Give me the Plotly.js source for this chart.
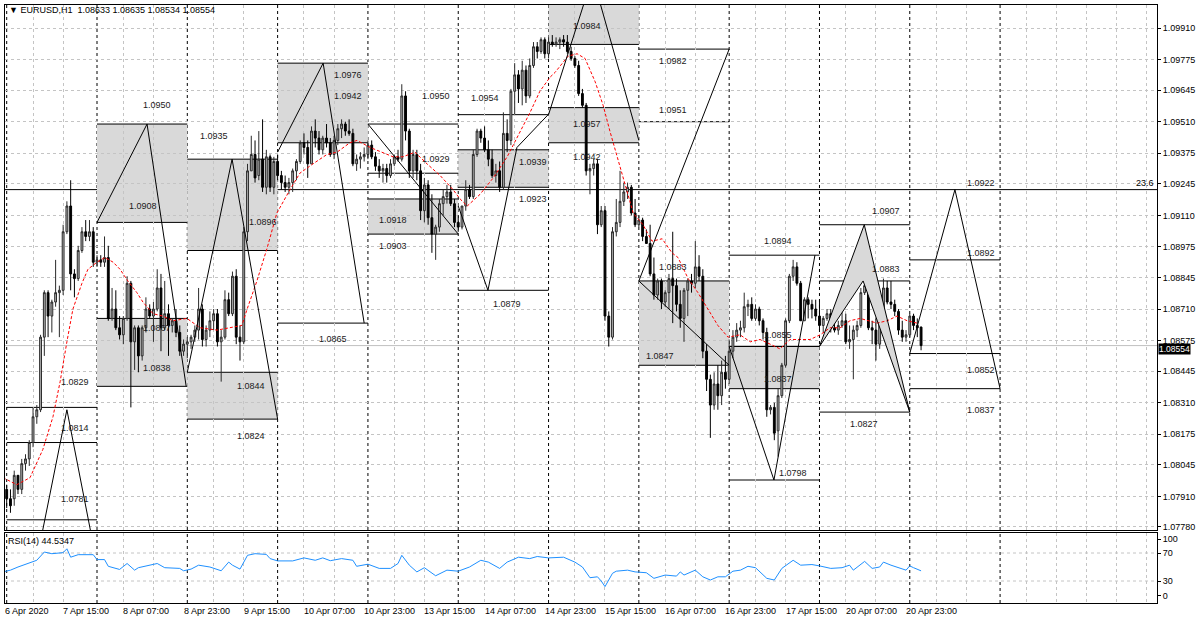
<!DOCTYPE html>
<html><head><meta charset="utf-8">
<script src="https://cdn.plot.ly/plotly-3.0.1.min.js"></script>
<style>html,body{margin:0;padding:0;background:#fff;}#chart{width:1200px;height:623px;}</style>
</head><body><div id="chart"></div>
<script>
// ---------- data ----------
const symbolTitle = "EURUSD,H1";
const lastOHLC = [1.08633, 1.08635, 1.08534, 1.08554];
const rsiLast = 44.5347;
// bar index 0 = 7 Apr 2020 00:00 (H1 bars)
const openP = [1.0794,1.0790,1.0790,1.0800,1.0794,1.0805,1.0807,1.0814,1.0825,1.0828,
1.0859,1.0878,1.0868,1.0874,1.0878,1.0879,1.0904,1.0915,1.0886,1.0884,
1.0896,1.0904,1.0902,1.0904,1.0891,1.0892,1.0891,1.0893,1.0867,1.0871,
1.0863,1.0860,1.0867,1.0882,1.0857,1.0863,1.0851,1.0863,1.0871,1.0868,
1.0871,1.0880,1.0863,1.0869,1.0864,1.0866,1.0861,1.0853,1.0856,1.0857,
1.0859,1.0862,1.0871,1.0858,1.0862,1.0866,1.0869,1.0857,1.0859,1.0875,
1.0869,1.0885,1.0859,1.0857,1.0904,1.0930,1.0937,1.0928,1.0935,1.0923,
1.0936,1.0923,1.0934,1.0928,1.0925,1.0923,1.0925,1.0930,1.0934,1.0942,
1.0940,1.0933,1.0947,1.0944,1.0939,1.0944,1.0942,1.0937,1.0943,1.0948,
1.0950,1.0947,1.0946,1.0933,1.0935,1.0936,1.0937,1.0941,1.0936,1.0932,
1.0930,1.0931,1.0928,1.0933,1.0936,1.0935,1.0962,1.0947,1.0930,1.0937,
1.0930,1.0913,1.0924,1.0910,1.0903,1.0906,1.0916,1.0919,1.0921,1.0916,
1.0908,1.0906,1.0915,1.0922,1.0919,1.0937,1.0947,1.0944,1.0939,1.0935,
1.0928,1.0930,1.0923,1.0946,1.0943,1.0964,1.0971,1.0965,1.0973,1.0962,
1.0975,1.0983,1.0981,1.0986,1.0980,1.0985,1.0984,1.0985,1.0986,1.0985,
1.0981,1.0978,1.0975,1.0963,1.0958,1.0930,1.0931,1.0933,1.0907,1.0913,
1.0868,1.0859,1.0904,1.0908,1.0917,1.0921,1.0923,1.0912,1.0907,1.0909,
1.0902,1.0899,1.0886,1.0877,1.0883,1.0874,1.0878,1.0884,1.0881,1.0873,
1.0867,1.0879,1.0883,1.0882,1.0889,1.0885,1.0853,1.0841,1.0830,1.0839,
1.0834,1.0844,1.0841,1.0853,1.0859,1.0862,1.0863,1.0872,1.0873,1.0867,
1.0871,1.0866,1.0861,1.0828,1.0829,1.0819,1.0834,1.0847,1.0866,1.0885,
1.0889,1.0882,1.0866,1.0875,1.0873,1.0871,1.0868,1.0864,1.0867,1.0869,
1.0863,1.0862,1.0864,1.0866,1.0857,1.0858,1.0862,1.0864,1.0878,1.0881,
1.0863,1.0862,1.0856,1.0866,1.0880,1.0874,1.0873,1.0870,1.0862,1.0859,
1.0860,1.0868,1.0864,1.08633];
const highP = [1.0796,1.0794,1.0802,1.0800,1.0807,1.0809,1.0815,1.0829,1.0830,1.0860,
1.0879,1.0879,1.0875,1.0892,1.0881,1.0907,1.0917,1.0926,1.0888,1.0898,
1.0906,1.0909,1.0909,1.0906,1.0894,1.0894,1.0902,1.0898,1.0880,1.0879,
1.0868,1.0868,1.0885,1.0883,1.0864,1.0864,1.0864,1.0876,1.0873,1.0874,
1.0888,1.0886,1.0883,1.0873,1.0867,1.0871,1.0864,1.0858,1.0859,1.0860,
1.0864,1.0880,1.0873,1.0864,1.0870,1.0871,1.0871,1.0862,1.0879,1.0878,
1.0887,1.0888,1.0864,1.0906,1.0933,1.0945,1.0943,1.0947,1.0952,1.0939,
1.0937,1.0936,1.0937,1.0930,1.0928,1.0927,1.0931,1.0935,1.0943,1.0946,
1.0943,1.0949,1.0952,1.0947,1.0945,1.0950,1.0944,1.0945,1.0950,1.0952,
1.0951,1.0952,1.0948,1.0937,1.0938,1.0940,1.0943,1.0943,1.0938,1.0935,
1.0933,1.0933,1.0935,1.0937,1.0939,1.0967,1.0964,1.0948,1.0939,1.0939,
1.0933,1.0927,1.0926,1.0920,1.0907,1.0918,1.0922,1.0924,1.0924,1.0918,
1.0911,1.0915,1.0926,1.0924,1.0939,1.0948,1.0948,1.0949,1.0943,1.0939,
1.0933,1.0934,1.0955,1.0952,1.0965,1.0976,1.0973,1.0977,1.0975,1.0978,
1.0985,1.0985,1.0987,1.0987,1.0987,1.0988,1.0987,1.0987,1.0988,1.0988,
1.0983,1.0979,1.0977,1.0965,1.0959,1.0933,1.0935,1.0935,1.0915,1.0915,
1.0870,1.0906,1.0918,1.0930,1.0925,1.0925,1.0924,1.0918,1.0911,1.0910,
1.0905,1.0907,1.0893,1.0884,1.0884,1.0879,1.0886,1.0904,1.0884,1.0879,
1.0880,1.0884,1.0886,1.0900,1.0894,1.0888,1.0856,1.0843,1.0844,1.0847,
1.0849,1.0851,1.0858,1.0862,1.0865,1.0866,1.0878,1.0875,1.0876,1.0873,
1.0872,1.0867,1.0863,1.0830,1.0831,1.0837,1.0848,1.0867,1.0886,1.0892,
1.0891,1.0883,1.0876,1.0876,1.0875,1.0875,1.0875,1.0868,1.0871,1.0871,
1.0866,1.0866,1.0871,1.0869,1.0864,1.0864,1.0866,1.0880,1.0896,1.0883,
1.0866,1.0867,1.0868,1.0884,1.0883,1.0883,1.0875,1.0871,1.0866,1.0862,
1.0869,1.0869,1.0867,1.08635];
const lowP = [1.0786,1.0784,1.0787,1.0792,1.0792,1.0802,1.0804,1.0812,1.0822,1.0827,
1.0851,1.0859,1.0861,1.0872,1.0859,1.0877,1.0903,1.0879,1.0876,1.0883,
1.0895,1.0900,1.0900,1.0889,1.0889,1.0889,1.0889,1.0866,1.0866,1.0862,
1.0858,1.0856,1.0866,1.0829,1.0845,1.0844,1.0849,1.0861,1.0867,1.0857,
1.0870,1.0853,1.0862,1.0851,1.0861,1.0859,1.0851,1.0851,1.0850,1.0854,
1.0857,1.0858,1.0855,1.0855,1.0859,1.0862,1.0855,1.0840,1.0858,1.0868,
1.0868,1.0856,1.0849,1.0856,1.0900,1.0930,1.0925,1.0926,1.0921,1.0920,
1.0921,1.0920,1.0926,1.0922,1.0921,1.0920,1.0921,1.0926,1.0933,1.0937,
1.0927,1.0933,1.0940,1.0937,1.0937,1.0940,1.0936,1.0935,1.0941,1.0944,
1.0945,1.0945,1.0932,1.0930,1.0931,1.0934,1.0935,1.0935,1.0930,1.0927,
1.0925,1.0925,1.0927,1.0932,1.0934,1.0934,1.0943,1.0927,1.0927,1.0926,
1.0909,1.0908,1.0907,1.0895,1.0892,1.0904,1.0911,1.0916,1.0915,1.0906,
1.0904,1.0905,1.0913,1.0918,1.0918,1.0936,1.0942,1.0938,1.0932,1.0927,
1.0925,1.0921,1.0922,1.0938,1.0941,1.0954,1.0959,1.0958,1.0959,1.0961,
1.0974,1.0978,1.0980,1.0978,1.0978,1.0983,1.0983,1.0982,1.0983,1.0980,
1.0977,1.0974,1.0962,1.0957,1.0928,1.0920,1.0928,1.0903,1.0906,1.0866,
1.0855,1.0858,1.0902,1.0906,1.0915,1.0918,1.0911,1.0906,1.0906,1.0900,
1.0899,1.0885,1.0875,1.0875,1.0871,1.0872,1.0871,1.0865,1.0870,1.0863,
1.0857,1.0868,1.0878,1.0880,1.0883,1.0850,1.0836,1.0816,1.0828,1.0828,
1.0830,1.0837,1.0839,1.0850,1.0857,1.0859,1.0861,1.0868,1.0866,1.0866,
1.0864,1.0858,1.0825,1.0826,1.0815,1.0808,1.0833,1.0846,1.0865,1.0883,
1.0881,1.0866,1.0866,1.0867,1.0867,1.0866,1.0862,1.0861,1.0866,1.0861,
1.0861,1.0860,1.0863,1.0856,1.0854,1.0841,1.0859,1.0863,1.0877,1.0862,
1.0856,1.0849,1.0854,1.0866,1.0873,1.0871,1.0868,1.0860,1.0857,1.0857,
1.0859,1.0862,1.0859,1.08534];
const closeP = [1.0790,1.0787,1.0800,1.0794,1.0805,1.0807,1.0814,1.0825,1.0828,1.0859,
1.0878,1.0868,1.0874,1.0878,1.0879,1.0904,1.0915,1.0886,1.0884,1.0896,
1.0904,1.0902,1.0904,1.0891,1.0892,1.0891,1.0893,1.0867,1.0871,1.0863,
1.0860,1.0867,1.0882,1.0857,1.0863,1.0851,1.0863,1.0871,1.0868,1.0871,
1.0880,1.0863,1.0869,1.0864,1.0866,1.0861,1.0853,1.0856,1.0857,1.0859,
1.0862,1.0871,1.0858,1.0862,1.0866,1.0869,1.0857,1.0859,1.0875,1.0869,
1.0885,1.0859,1.0857,1.0904,1.0930,1.0937,1.0927,1.0935,1.0923,1.0936,
1.0923,1.0934,1.0928,1.0925,1.0923,1.0925,1.0930,1.0934,1.0942,1.0940,
1.0933,1.0947,1.0944,1.0939,1.0944,1.0942,1.0937,1.0943,1.0948,1.0950,
1.0947,1.0946,1.0933,1.0935,1.0936,1.0937,1.0941,1.0936,1.0932,1.0930,
1.0931,1.0928,1.0933,1.0936,1.0935,1.0962,1.0947,1.0930,1.0937,1.0930,
1.0913,1.0924,1.0910,1.0903,1.0906,1.0916,1.0919,1.0921,1.0916,1.0908,
1.0906,1.0915,1.0922,1.0919,1.0937,1.0947,1.0944,1.0939,1.0935,1.0928,
1.0930,1.0923,1.0946,1.0943,1.0964,1.0971,1.0965,1.0973,1.0962,1.0975,
1.0983,1.0981,1.0986,1.0980,1.0985,1.0984,1.0985,1.0986,1.0985,1.0981,
1.0978,1.0975,1.0963,1.0958,1.0930,1.0931,1.0933,1.0907,1.0913,1.0868,
1.0859,1.0904,1.0908,1.0917,1.0921,1.0923,1.0912,1.0907,1.0909,1.0902,
1.0899,1.0886,1.0877,1.0883,1.0874,1.0878,1.0884,1.0881,1.0873,1.0867,
1.0879,1.0883,1.0882,1.0889,1.0885,1.0853,1.0841,1.0830,1.0839,1.0834,
1.0844,1.0841,1.0853,1.0859,1.0862,1.0863,1.0872,1.0873,1.0867,1.0871,
1.0866,1.0861,1.0828,1.0829,1.0818,1.0834,1.0847,1.0866,1.0885,1.0889,
1.0882,1.0866,1.0875,1.0873,1.0871,1.0868,1.0864,1.0867,1.0869,1.0863,
1.0862,1.0864,1.0866,1.0857,1.0858,1.0862,1.0864,1.0878,1.0881,1.0863,
1.0862,1.0856,1.0866,1.0880,1.0874,1.0873,1.0870,1.0862,1.0859,1.0860,
1.0868,1.0864,1.0863,1.08554];

// moving average (red dashed), read points
const maX = [-1,2.7,6.2,9.6,12.3,14.2,16,17.6,20,21.6,24,26.1,28.3,30.1,32.2,34.6,36.2,38.9,41.5,44.2,
47.9,51.4,55.9,59.4,62.5,63.9,66.5,69.2,71.8,75.3,77.9,81.4,85.1,87.8,91.2,93.1,95.2,96.6,102.7,105.3,
108.5,111.7,115.2,118.6,120.5,122.4,125.8,129.3,133,135.6,139.1,141.7,144.4,145.7,149.2,151.6,153.7,156.4,158.5,160.3,
162.2,164.3,166.5,169.1,171.5,174.2,176.8,178.4,181.1,183.7,186.4,189,191.7,194.9,197.6,200.2,202.9,205.5,208.2,210.9,
213.5,216.2,218.8,221.5,224.1,226.8,229.4,231.3,234,236.6,239.3,241.9];
const maV = [1.0799,1.0796,1.0799,1.0811,1.0825,1.0840,1.0857,1.0871,1.0882,1.0888,1.0891,1.0893,1.0891,1.0888,1.0883,1.0878,1.0874,1.0869,1.0868,1.0866,
1.0867,1.0863,1.0862,1.0863,1.0864,1.0871,1.0883,1.0897,1.0912,1.0922,1.0929,1.0933,1.0937,1.0938,1.0942,1.0943,1.0941,1.0940,1.0936,1.0936,
1.0938,1.0933,1.0928,1.0922,1.0918,1.0915,1.0920,1.0927,1.0936,1.0944,1.0955,1.0964,1.0970,1.0972,1.0979,1.0980,1.0978,1.0968,1.0958,1.0947,
1.0936,1.0924,1.0912,1.0907,1.0900,1.0901,1.0895,1.0893,1.0884,1.0878,1.0871,1.0864,1.0859,1.0860,1.0857,1.0858,1.0856,1.0854,1.0858,1.0858,
1.0858,1.0860,1.0863,1.0863,1.0866,1.0867,1.0866,1.0865,1.0866,1.0868,1.0866,1.0865];

// RSI(14), read points
const rsiX = [-1,1,3,8,10,12,15,16,17,19,23,24,26,27,30,32,34,35,40,42,46,47,49,51,54,57,59,60,62,64,66,69,70,72,76,79,82,84,86,89,
92,93,96,99,102,104,105,107,109,111,114,117,120,123,126,128,131,133,136,139,141,144,148,151,153,155,157,158,159,161,162,165,167,170,172,175,178,179,180,183,
185,187,189,191,193,195,197,199,202,204,206,209,211,214,216,219,222,224,225,228,230,232,233,235,239,240,241,243];
const rsiV = [43,45.5,50,59.6,71.4,69,70.5,76,64,67.6,67.6,60.6,60.6,51,46.5,55,45.5,49,55,49,48,44.6,47,52.6,50,44.6,57,52.6,47,66.7,69,68,62,58.7,58.7,63,59.6,63,59,62,
59.6,51,54,48,48,55,66.7,52.6,43,49,37.5,45.5,44,50,59.6,57,48,57,64,62,65,63,64,57,50,34.7,36,30,22,41,44,45.5,43,41.8,33.8,38.5,37,43,38.5,45.5,
36,31.4,36,36,44,45.5,51,49,33.8,31.4,48,59.6,52.6,53.5,51.6,48,49,52.6,45.5,58,48,50,57,52.6,45.5,51.6,49,44.53];

// daily indicator levels (column = first bar of the day)
const dayStart = [0,24,48,72,96,120,144,168,192,216,240,264];
const levCol = [0,0,0, 24,24,24,24, 48,48,48,48, 72,72,72, 96,96,96,96, 120,120,120,120, 144,144,144, 168,168,168,168, 192,192,192,192, 216,216,216, 240,240,240];
const levVal = [1.0829,1.0814,1.0781, 1.0950,1.0908,1.0867,1.0838, 1.0935,1.0896,1.0844,1.0824, 1.0976,1.0942,1.0865, 1.0950,1.0929,1.0918,1.0903, 1.0954,1.0939,1.0923,1.0879, 1.0984,1.0957,1.0942, 1.0982,1.0951,1.0883,1.0847, 1.0894,1.0855,1.0837,1.0798, 1.0907,1.0883,1.0827, 1.0892,1.0852,1.0837];
const boxCol = [24,24,48,48,72,96,120,144,144,168,192];
const boxTop = [1.0950,1.0867,1.0935,1.0844,1.0976,1.0918,1.0939,1.1010,1.0957,1.0883,1.0855];
const boxBot = [1.0908,1.0838,1.0896,1.0824,1.0942,1.0903,1.0923,1.0984,1.0942,1.0847,1.0837];
const fibLevel = 1.0922, fibText = "23.6";
// zigzag projections
const zzX = [[9.0,16.0,22.8],[24,37.3,47.7],[48,59.9,72],[72,84.1,95],[96,120],[120,127.9,135.6,143.9],[144,155.7,168],[192,168,192],[192,203.9,214.8],[216,227.9,240],[216,227.6,240],[240,252,264]];
const zzY = [[1.0772,1.0828,1.0772],[1.0908,1.0950,1.0838],[1.0844,1.0935,1.0824],[1.0938,1.0976,1.0865],[1.0950,1.0903],[1.0915,1.0879,1.0940,1.0954],[1.0954,1.1013,1.0943],[1.0847,1.0883,1.0982],[1.0855,1.0798,1.0894],[1.0855,1.0907,1.0827],[1.0855,1.0883,1.0827],[1.0852,1.0922,1.0837]];
const fillOuter = 9, fillInner = 10;
// level labels
const labX = [18.2,18.2,18.2, 40,36.2,40,40, 55,68,65,65, 90.8,90.8,86.8, 114,114,102.7,102.7, 127,140,140,133, 154.2,154.2,154.2, 177,177,177,173.7, 204.9,204.9,205,209, 233.8,233.8,227.9, 258.9,258.9,258.9,258.9];
const labPos = [1.0840,1.0820,1.0790, 1.0958,1.0915,1.0863,1.0846, 1.0945,1.0908,1.0838,1.0817, 1.0971,1.0962,1.0858, 1.0962,1.0935,1.0909,1.0898, 1.0961,1.0934,1.0918,1.0873, 1.0992,1.0950,1.0936, 1.0977,1.0956,1.0889,1.0851, 1.0900,1.0860,1.0841,1.0801, 1.0913,1.0888,1.0822, 1.0925,1.0895,1.0845,1.0828];
const labVal = [1.0829,1.0814,1.0781, 1.0950,1.0908,1.0867,1.0838, 1.0935,1.0896,1.0844,1.0824, 1.0976,1.0942,1.0865, 1.0950,1.0929,1.0918,1.0903, 1.0954,1.0939,1.0923,1.0879, 1.0984,1.0957,1.0942, 1.0982,1.0951,1.0883,1.0847, 1.0894,1.0855,1.0837,1.0798, 1.0907,1.0883,1.0827, 1.0922,1.0892,1.0852,1.0837];

// axes
const priceTicks = [1.09910,1.09775,1.09645,1.09510,1.09375,1.09245,1.09110,1.08975,1.08845,1.08710,1.08575,1.08445,1.08310,1.08175,1.08045,1.07910,1.07780];
const rsiTickVals = [90,70,30,8.6];
const rsiTickText = ['100','70','30','0'];
const rsiLevels = [70,30];
const xLabIdx = [-0.45,15,31,47,63,79,95,111,127,143,159,175,191,207,223,239];
const xLabText = ['6 Apr 2020','7 Apr 15:00','8 Apr 07:00','8 Apr 23:00','9 Apr 15:00','10 Apr 07:00','10 Apr 23:00','13 Apr 15:00','14 Apr 07:00','14 Apr 23:00','15 Apr 15:00','16 Apr 07:00','16 Apr 23:00','17 Apr 15:00','20 Apr 07:00','20 Apr 23:00'];
const gridTicks = [7,15,31,39,55,63,79,87,103,111,127,135,151,159,175,183,199,207,223,231,247,255,271,279,287,295,303];

// ---------- layout constants ----------
const W = 1200, H = 623;
const X0 = 5/W, X1 = 1157/W;
const MAIN = [(H-530)/H, (H-5)/H];
const SUB = [(H-603)/H, (H-533)/H];
const XR = [-0.45, 305.7];
const YR = [1.077665, 1.100083];
const Y2R = [-1.43, 98.57];
const FONT = 'Liberation Sans, Arial, sans-serif';
const GRID = '#c4c4c4';
const BOXFILL = '#d9d9d9';

const idx = openP.map((_, k) => k);
const traces = [];

// filled chevron (col J)
const fx = zzX[fillOuter].concat(zzX[fillInner].slice().reverse());
const fy = zzY[fillOuter].concat(zzY[fillInner].slice().reverse());
traces.push({type:'scatter', mode:'lines', x:fx, y:fy, fill:'toself', fillcolor:BOXFILL, line:{width:0}, hoverinfo:'skip', xaxis:'x', yaxis:'y'});

traces.push({
  type:'candlestick', x:idx, open:openP, high:highP, low:lowP, close:closeP,
  xaxis:'x', yaxis:'y', whiskerwidth:0,
  increasing:{line:{color:'#2a2a2a', width:1}, fillcolor:'#b4b4b4'},
  decreasing:{line:{color:'#000', width:1}, fillcolor:'#000000'},
  hoverinfo:'skip'
});
traces.push({type:'scatter', mode:'lines', x:maX, y:maV, line:{color:'#ff0000', width:1, dash:'3px,2px'}, hoverinfo:'skip', xaxis:'x', yaxis:'y'});
zzX.forEach((xs, k) => {
  traces.push({type:'scatter', mode:'lines', x:xs, y:zzY[k], line:{color:'#000', width:1}, hoverinfo:'skip', xaxis:'x', yaxis:'y'});
});
traces.push({type:'scatter', mode:'lines', x:rsiX, y:rsiV, line:{color:'#1e90ff', width:1}, hoverinfo:'skip', xaxis:'x2', yaxis:'y2'});

const shapes = [];
boxCol.forEach((c, k) => {
  shapes.push({type:'rect', xref:'x', yref:'y', x0:c, x1:c+24, y0:boxBot[k], y1:boxTop[k], fillcolor:BOXFILL, line:{width:0}, layer:'below'});
});
levCol.forEach((c, k) => {
  shapes.push({type:'line', xref:'x', yref:'y', x0:c, x1:c+24, y0:levVal[k], y1:levVal[k], line:{color:'#000', width:1}, layer:'below'});
});
// bid line and fib line
shapes.push({type:'line', xref:'x domain', yref:'y', x0:0, x1:1, y0:lastOHLC[3], y1:lastOHLC[3], line:{color:'#c0c0c0', width:1}, layer:'below'});
shapes.push({type:'line', xref:'x domain', yref:'y', x0:0, x1:1, y0:fibLevel, y1:fibLevel, line:{color:'#000', width:1}, layer:'below'});
// day separators
dayStart.forEach(d => {
  shapes.push({type:'line', xref:'x', yref:'y domain', x0:d, x1:d, y0:0, y1:1, line:{color:'#000', width:1, dash:'3px,3px'}, layer:'below'});
  shapes.push({type:'line', xref:'x2', yref:'y2 domain', x0:d, x1:d, y0:0, y1:1, line:{color:'#000', width:1, dash:'3px,3px'}, layer:'below'});
});
rsiLevels.forEach(v => {
  shapes.push({type:'line', xref:'x2 domain', yref:'y2', x0:0, x1:1, y0:v, y1:v, line:{color:GRID, width:1, dash:'3px,3px'}, layer:'below'});
});

const annotations = [];
labX.forEach((x, k) => {
  annotations.push({x:x, y:labPos[k], xref:'x', yref:'y', text:labVal[k].toFixed(4), showarrow:false, font:{family:FONT, size:9, color:'#1a1a1a'}, xanchor:'center', yanchor:'middle'});
});
xLabIdx.forEach((x, k) => {
  annotations.push({x:x, y:(H-611)/H, xref:'x', yref:'paper', text:xLabText[k], showarrow:false, font:{family:FONT, size:9, color:'#000'}, xanchor:'left', yanchor:'middle', xshift:-2});
});
annotations.push({x:7/W, y:(H-10)/H, xref:'paper', yref:'paper', xanchor:'left', yanchor:'middle', showarrow:false,
  text:'\u25BC ' + symbolTitle + '  ' + lastOHLC.map(v => v.toFixed(5)).join(' '), font:{family:FONT, size:9, color:'#000'}});
annotations.push({x:6/W, y:(H-541)/H, xref:'paper', yref:'paper', xanchor:'left', yanchor:'middle', showarrow:false,
  text:'RSI(14) ' + rsiLast.toFixed(4), font:{family:FONT, size:9, color:'#000'}});
annotations.push({x:1, y:fibLevel, xref:'x domain', yref:'y', xanchor:'right', yanchor:'bottom', showarrow:false, text:fibText, font:{family:FONT, size:9, color:'#000'}, xshift:-1});
annotations.push({x:1158/W, y:lastOHLC[3], xref:'paper', yref:'y', xanchor:'left', yanchor:'middle', showarrow:false, text:lastOHLC[3].toFixed(5),
  bgcolor:'#000', borderpad:0, yshift:-3, font:{family:FONT, size:8.5, color:'#fff'}});

const axisCommon = {showline:true, mirror:true, linecolor:'#000', linewidth:1, zeroline:false, fixedrange:true};
const layout = {
  width:W, height:H, margin:{l:0, r:0, t:0, b:0}, autosize:false,
  paper_bgcolor:'#fff', plot_bgcolor:'#fff', showlegend:false,
  font:{family:FONT, size:9, color:'#000'},
  xaxis:Object.assign({domain:[X0, X1], range:XR, anchor:'y', tickvals:gridTicks, showticklabels:false, ticks:'', showgrid:true, gridcolor:GRID, griddash:'3px,3px', gridwidth:1, rangeslider:{visible:false}}, axisCommon),
  yaxis:Object.assign({domain:MAIN, range:YR, anchor:'x', side:'right', tickvals:priceTicks, ticktext:priceTicks.map(v => v.toFixed(5)), ticks:'outside', ticklen:3, tickcolor:'#000', showgrid:true, gridcolor:GRID, griddash:'3px,3px', tickfont:{family:FONT, size:9, color:'#000'}}, axisCommon),
  xaxis2:Object.assign({domain:[X0, X1], range:XR, anchor:'y2', matches:'x', tickvals:gridTicks, showticklabels:false, ticks:'', showgrid:true, gridcolor:GRID, griddash:'3px,3px', rangeslider:{visible:false}}, axisCommon),
  yaxis2:Object.assign({domain:SUB, range:Y2R, anchor:'x2', side:'right', tickvals:rsiTickVals, ticktext:rsiTickText, ticks:'outside', ticklen:3, tickcolor:'#000', showgrid:false, tickfont:{family:FONT, size:9, color:'#000'}}, axisCommon),
  shapes:shapes, annotations:annotations
};
Plotly.newPlot('chart', traces, layout, {displayModeBar:false, staticPlot:true});
</script>
</body></html>
